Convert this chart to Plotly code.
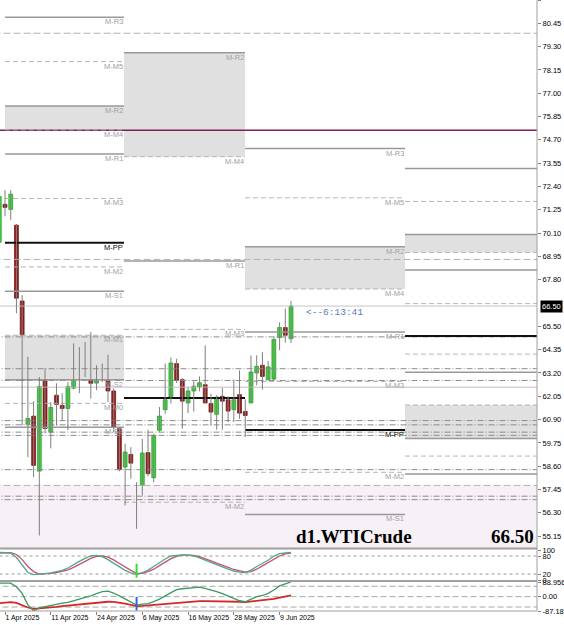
import plotly.graph_objects as go

# ---------------- data ----------------
dates = ["31 Mar", "1 Apr", "2 Apr", "3 Apr", "4 Apr", "7 Apr", "8 Apr", "9 Apr", "10 Apr", "11 Apr",
         "14 Apr", "15 Apr", "16 Apr", "17 Apr", "21 Apr", "22 Apr", "23 Apr", "24 Apr", "25 Apr", "28 Apr",
         "29 Apr", "30 Apr", "1 May", "2 May", "5 May", "6 May", "7 May", "8 May", "9 May", "12 May",
         "13 May", "14 May", "15 May", "16 May", "19 May", "20 May", "21 May", "22 May", "23 May", "26 May",
         "27 May", "28 May", "29 May", "30 May", "2 Jun", "3 Jun", "4 Jun", "5 Jun", "6 Jun", "9 Jun",
         "10 Jun", "11 Jun"]
opens = [69.65, 71.52, 71.27, 70.49, 66.75, 60.67, 61.07, 58.36, 62.98, 60.28,
         62.10, 61.60, 61.45, 62.45, 64.12, 63.18, 64.17, 62.70, 63.17, 64.10,
         62.31, 60.45, 58.56, 59.18, 56.17, 57.27, 59.27, 58.03, 60.37, 61.39,
         62.01, 63.66, 62.87, 61.72, 62.31, 62.51, 62.62, 61.69, 61.16, 62.05,
         61.88, 61.39, 62.13, 61.30, 61.72, 63.20, 63.58, 62.87, 62.90, 64.95,
         65.44, 64.89]
highs = [72.30, 72.22, 72.22, 70.55, 67.04, 64.00, 61.81, 63.00, 63.43, 61.76,
         62.69, 62.20, 62.75, 64.66, 64.48, 64.73, 65.22, 63.58, 63.66, 64.10,
         62.44, 60.50, 59.71, 59.54, 57.81, 59.95, 60.40, 60.20, 61.52, 63.66,
         63.96, 63.90, 62.95, 62.50, 62.80, 63.03, 64.56, 62.18, 62.10, 62.46,
         62.05, 62.87, 63.33, 61.90, 64.07, 64.07, 64.23, 63.80, 64.97, 65.70,
         66.38, 66.75]
lows = [69.40, 70.93, 70.74, 66.15, 60.62, 59.04, 58.06, 55.18, 60.22, 59.48,
        60.61, 60.86, 60.37, 62.40, 62.20, 63.00, 61.94, 62.35, 62.75, 61.76,
        60.28, 58.35, 56.67, 57.98, 55.51, 57.16, 58.10, 57.81, 60.30, 61.19,
        61.69, 62.70, 60.45, 61.22, 61.30, 62.30, 61.70, 60.61, 60.40, 60.40,
        60.78, 60.78, 60.94, 60.04, 61.72, 62.59, 62.38, 62.85, 62.84, 64.32,
        64.70, 64.68]
closes = [71.90, 71.37, 72.02, 66.89, 62.84, 60.96, 58.64, 62.54, 60.46, 61.50,
          61.65, 61.45, 62.54, 64.12, 63.25, 63.92, 62.69, 63.03, 63.53, 62.31,
          60.53, 58.43, 59.30, 58.75, 57.19, 59.25, 58.23, 60.12, 61.07, 61.88,
          63.69, 62.84, 61.81, 62.31, 62.55, 62.72, 61.72, 61.27, 62.01, 61.81,
          61.32, 61.88, 61.22, 61.10, 63.25, 63.53, 63.03, 63.50, 64.85, 65.44,
          65.06, 66.50]

stoch_main = [92, 91, 90, 75, 50, 25, 18, 19, 21, 24, 28, 32, 40, 52, 62, 72, 80, 82, 78, 68,
              55, 42, 32, 24, 18, 25, 33, 45, 58, 70, 80, 83, 84, 83, 80, 74, 66, 58, 50, 43,
              36, 30, 26, 25, 33, 45, 55, 66, 80, 88, 90, 92]
stoch_signal = [90, 91, 91, 85, 68, 45, 28, 20, 20, 22, 25, 29, 34, 42, 52, 63, 72, 79, 80, 76,
                67, 55, 42, 32, 22, 22, 28, 36, 48, 60, 71, 79, 83, 83, 82, 78, 72, 64, 56, 48,
                42, 35, 30, 26, 28, 36, 47, 58, 70, 80, 87, 90]
osc_fast = [82, 84, 82, 60, 20, -50, -87.1857, -68, -60, -52, -45, -40, -35, -25, -18, -8, 5, 18, 30, 34,
            22, 5, -15, -32, -51, -46, -42, -30, -15, 5, 25, 42, 48, 52, 56, 58, 50, 42, 30, 18,
            5, -10, -25, -31, -15, 0, 7, 20, 40, 65, 78, 88.956]
osc_slow = [-40, -37, -33, -38, -52, -66, -74, -72, -68, -65, -62, -58, -55, -52, -48, -44, -40, -36, -33, -31,
            -32, -36, -42, -50, -57, -56, -53, -50, -46, -42, -38, -35, -32, -30, -28, -27, -27, -27, -27, -27,
            -28, -29, -31, -33, -30, -27, -24, -20, -14, -6, 2, 8]
signal_bar = [24]
stoch_signal_span = [54, 8]
osc_signal_span = [-2, -85]

date_tick_idx = [1, 9, 17, 25, 33, 41, 49]
date_tick_text = ["1 Apr 2025", "11 Apr 2025", "24 Apr 2025", "6 May 2025", "16 May 2025",
                  "28 May 2025", "9 Jun 2025"]

price_ticks = [55.15, 56.30, 57.45, 58.60, 59.75, 60.90, 62.05, 63.20, 64.35, 65.50,
               67.80, 68.95, 70.10, 71.25, 72.40, 73.55, 74.70, 75.85, 77.00, 78.15,
               79.30, 80.45, 81.60]
last_price = 66.50

# monthly pivot segments (bar-index boundaries) and their levels
seg_bounds = [1.0, 21.8, 42.96, 70.93, 95.0]
seg1_levels = {"R3": 80.75, "M5": 78.56, "R2": 76.37, "M4": 75.19, "R1": 74.00, "M3": 71.81,
               "PP": 69.62, "M2": 68.43, "S1": 67.23, "M1": 65.06, "S2": 62.87, "M0": 61.70, "S3": 60.52}
seg2_levels = {"R2": 79.00, "M4": 73.87, "R1": 68.72, "M3": 65.35, "PP": 61.96, "M2": 56.82}
seg3_levels = {"R3": 74.27, "M5": 71.84, "R2": 69.43, "M4": 67.34, "R1": 65.22, "M3": 62.78,
               "PP": 60.38, "M2": 58.30, "S1": 56.22}
seg4_levels = {"R3": 73.29, "M5": 71.66, "R2": 70.03, "M4": 69.14, "R1": 68.28, "M3": 66.62,
               "PP": 65.02, "M2": 64.13, "S1": 63.24, "M1": 61.62, "S2": 59.97, "M0": 59.10, "S3": 58.22}
seg_levels = [seg1_levels, seg2_levels, seg3_levels, seg4_levels]
seg_labelled = [True, True, True, False]
seg2_hidden_labels = ["PP"]
seg_boxes = [[("R2", "M4"), ("M1", "S2")], [("R2", "M4")], [("R2", "M4")], [("R2", "M4"), ("M1", "S2")]]

full_dashed = [79.96, 68.80, 57.65]
full_dashdot = [64.98, 63.41, 62.83, 60.85, 60.64, 60.28, 60.12, 58.43, 57.12, 56.95]
purple_level = 75.18
light_level = 62.50
pink_zone = [54.0, 57.65]

osc_levels = [63, 0, -63]
stoch_levels = [80, 20]

X0, X1 = 0.126, 94.0
XF0, XF1 = -1, 96

fig = go.Figure()


def hline(y, x0, x1, color, width=1, dash="solid", yaxis="y"):
    fig.add_trace(go.Scatter(x=[x0, x1], y=[y, y], mode="lines", yaxis=yaxis,
                             line=dict(color=color, width=width, dash=dash),
                             hoverinfo="skip", showlegend=False))


def box(x0, x1, y0, y1, color):
    fig.add_trace(go.Scatter(x=[x0, x1, x1, x0, x0], y=[y0, y0, y1, y1, y0], mode="lines",
                             fill="toself", fillcolor=color, line=dict(width=0),
                             hoverinfo="skip", showlegend=False))


# background zones
box(XF0, XF1, pink_zone[0], pink_zone[1], "#f7f0f7")
for s, boxes in enumerate(seg_boxes):
    for a, b in boxes:
        box(seg_bounds[s], seg_bounds[s + 1], seg_levels[s][a], seg_levels[s][b], "#e0e0e0")

# full width lines
for v in full_dashed:
    hline(v, XF0, XF1, "#b8b0b8", 1, "7px,3px")
for v in full_dashdot:
    hline(v, XF0, XF1, "#8c8c8c", 1, "6px,2px,1px,2px")
hline(light_level, XF0, XF1, "#cbb8cb", 1)
hline(last_price, XF0, XF1, "#c4c4c4", 1)
hline(purple_level, XF0, XF1, "#7d1f5a", 1.5)

# pivot segments
annots = []
for s, lv in enumerate(seg_levels):
    xa, xb = seg_bounds[s], seg_bounds[s + 1]
    for name, v in lv.items():
        if name == "PP":
            hline(v, xa, xb, "#111111", 2)
        elif name.startswith("M"):
            hline(v, xa, xb, "#b4b4b4", 1, "5px,3px")
        else:
            hline(v, xa, xb, "#999999", 1.5)
        if seg_labelled[s] and not (s == 1 and name in seg2_hidden_labels):
            annots.append(dict(x=xb, y=v, xref="x", yref="y", xanchor="right", yanchor="top",
                               text="M-" + name, showarrow=False, borderpad=0, yshift=1,
                               font=dict(family="Liberation Sans", size=7.5,
                                         color="#111111" if name == "PP" else "#a0a0a0")))

# candles
idx = list(range(len(dates)))
wx, wy = [], []
for i in idx:
    wx += [i, i, None]
    wy += [lows[i], highs[i], None]
fig.add_trace(go.Scatter(x=wx, y=wy, mode="lines", line=dict(color="#7f7f7f", width=1),
                         hoverinfo="skip", showlegend=False))
base = [min(o, c) for o, c in zip(opens, closes)]
hgt = [max(abs(c - o), 0.06) for o, c in zip(opens, closes)]
up = [c >= o for o, c in zip(opens, closes)]
fig.add_trace(go.Bar(x=idx, y=hgt, base=base, width=0.68,
                     marker=dict(color=["#38dc38" if u else "#a11d1d" for u in up],
                                 line=dict(color=["#229022" if u else "#5e1010" for u in up], width=0.7)),
                     hoverinfo="skip", showlegend=False))

# stochastic panel
for v in stoch_levels:
    hline(v, XF0, XF1, "#9a9a9a", 1, "dot", "y2")
fig.add_trace(go.Scatter(x=idx, y=stoch_signal, mode="lines", yaxis="y2",
                         line=dict(color="#c8506e", width=1.3), showlegend=False, hoverinfo="skip"))
fig.add_trace(go.Scatter(x=idx, y=stoch_main, mode="lines", yaxis="y2",
                         line=dict(color="#4fa88a", width=1.3), showlegend=False, hoverinfo="skip"))
fig.add_trace(go.Scatter(x=[signal_bar[0]] * 2, y=stoch_signal_span, mode="lines", yaxis="y2",
                         line=dict(color="#33dd33", width=2), showlegend=False, hoverinfo="skip"))

# oscillator panel
for v in osc_levels:
    hline(v, XF0, XF1, "#a8a8a8", 1, "6px,3px", "y3")
fig.add_trace(go.Scatter(x=idx, y=osc_slow, mode="lines", yaxis="y3",
                         line=dict(color="#d42828", width=1.8), showlegend=False, hoverinfo="skip"))
fig.add_trace(go.Scatter(x=idx, y=osc_fast, mode="lines", yaxis="y3",
                         line=dict(color="#3a9a60", width=1.3), showlegend=False, hoverinfo="skip"))
fig.add_trace(go.Scatter(x=[signal_bar[0]] * 2, y=osc_signal_span, mode="lines", yaxis="y3",
                         line=dict(color="#2f62e0", width=2), showlegend=False, hoverinfo="skip"))

# texts
annots.append(dict(x=53.2, y=66.19, xref="x", yref="y", xanchor="left", yanchor="middle",
                   text="<--6:13:41", showarrow=False,
                   font=dict(family="Liberation Mono", size=9.5, color="#5b7db8")))
annots.append(dict(x=294 / 537, y=55.15, xref="paper", yref="y", xanchor="left", yanchor="middle",
                   text="<b>d1.WTICrude</b>", showarrow=False,
                   font=dict(family="Liberation Serif", size=19, color="#000000")))
annots.append(dict(x=536 / 537, y=55.15, xref="paper", yref="y", xanchor="right", yanchor="middle",
                   text="<b>%.2f</b>" % last_price, showarrow=False,
                   font=dict(family="Liberation Serif", size=19, color="#000000")))
annots.append(dict(x=1, y=last_price, xref="paper", yref="y", xanchor="left", yanchor="middle",
                   xshift=3, text="%.2f" % last_price, showarrow=False, bgcolor="#000000",
                   borderpad=1, font=dict(family="Liberation Sans", size=7.5, color="#ffffff")))

H = 611.0
sep = dict(type="line", xref="paper", yref="paper", line=dict(color="#a0a0a0", width=2))
shapes = [
    dict(sep, x0=0, x1=1, y0=(H - 548.5) / H, y1=(H - 548.5) / H),
    dict(sep, x0=0, x1=1, y0=(H - 581) / H, y1=(H - 581) / H),
    dict(type="line", xref="paper", yref="paper", x0=0, x1=1, y0=0, y1=0,
         line=dict(color="#a0a0a0", width=1)),
    dict(type="line", xref="paper", yref="paper", x0=1, x1=1, y0=0, y1=1,
         line=dict(color="#a0a0a0", width=1)),
]

tickfont = dict(family="Liberation Sans", size=7.5, color="#000000")
fig.update_layout(
    width=564, height=625,
    margin=dict(l=0, r=27, t=0, b=14, autoexpand=False),
    paper_bgcolor="white", plot_bgcolor="white",
    showlegend=False, barmode="overlay",
    annotations=annots, shapes=shapes,
    xaxis=dict(domain=[0, 1], anchor="y3", range=[X0, X1], showgrid=False, zeroline=False,
               tickmode="array", tickvals=date_tick_idx, ticktext=date_tick_text, tickangle=0,
               automargin=False,
               ticklabelposition="outside right", ticks="outside", ticklen=3,
               tickcolor="#808080", tickfont=dict(family="Liberation Sans", size=7, color="#000000")),
    yaxis=dict(domain=[(H - 548.5) / H, 1], range=[54.54, 81.60], side="right", anchor="x",
               automargin=False,
               showgrid=False, zeroline=False, tickmode="array", tickvals=price_ticks,
               ticktext=["%.2f" % v for v in price_ticks], ticks="outside", ticklen=3,
               tickcolor="#808080", tickfont=tickfont),
    yaxis2=dict(domain=[(H - 580) / H, (H - 550) / H], range=[0, 100], side="right", anchor="x",
                automargin=False,
                showgrid=False, zeroline=False, tickmode="array", tickvals=[0, 20, 80, 100],
                ticks="outside", ticklen=3, tickcolor="#808080", tickfont=tickfont),
    yaxis3=dict(domain=[0, (H - 582) / H], range=[-87.1857, 88.956], side="right", anchor="x",
                automargin=False,
                showgrid=False, zeroline=False, tickmode="array", tickvals=[88.956, 0, -87.1857],
                ticktext=["88.956", "0.00", "-87.1857"], ticks="outside", ticklen=3,
                tickcolor="#808080", tickfont=tickfont),
)

fig.write_html("out.html")
